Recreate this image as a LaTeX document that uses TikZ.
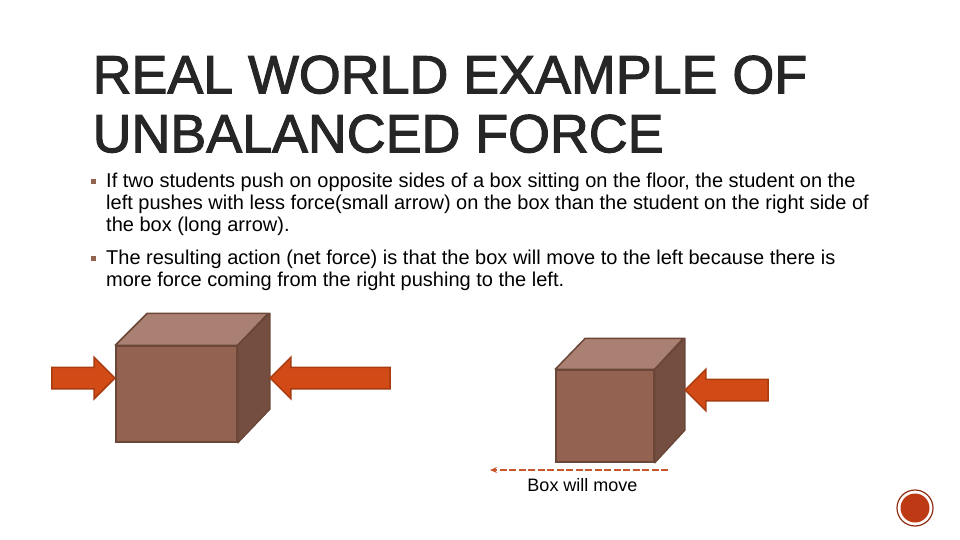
\documentclass[tikz,border=0pt]{standalone}
\usepackage{fontspec}
\setmainfont{Liberation Sans}
\newfontfamily\titlefont[FakeBold=2]{Liberation Sans}
\usetikzlibrary{positioning, calc, shapes.arrows, arrows.meta}
\definecolor{boxfront}{HTML}{936250}
\definecolor{boxtop}{HTML}{A98072}
\definecolor{boxside}{HTML}{744E40}
\definecolor{boxline}{HTML}{6B473A}
\definecolor{pushfill}{HTML}{D24A15}
\definecolor{pushline}{HTML}{A83B10}
\definecolor{movecolor}{HTML}{C8562A}
\definecolor{badgefill}{HTML}{BE3A14}
\definecolor{badgeline}{HTML}{8F2E14}
\tikzset{
  titletext/.style={anchor=north west, inner sep=0pt, align=left, text=black!85, font=\titlefont\fontsize{53.8}{59}\selectfont},
  bodytext/.style={anchor=north west, inner sep=0pt, align=left, font=\fontsize{20}{22}\selectfont},
  bulletmark/.style={fill=boxfront, inner sep=0pt, minimum size=5.5pt},
  frontface/.style={draw=boxline, fill=boxfront, line width=1.5pt, inner sep=0pt},
  topface/.style={draw=boxline, fill=boxtop, line width=1.5pt, line join=round},
  sideface/.style={draw=boxline, fill=boxside, line width=1.5pt, line join=round},
  pusharrow/.style={single arrow, draw=pushline, fill=pushfill, line width=1.5pt, anchor=tip,
    inner xsep=0pt, inner ysep=10pt, single arrow head extend=10pt},
  pushright/.style={pusharrow},
  pushleft/.style={pusharrow, shape border rotate=180},
}
\begin{document}
\begin{tikzpicture}[x=1pt, y=-1pt]
  \useasboundingbox (0,0) rectangle (960,540);

  % Title and the two bullet points
  \node[titletext] (title) at (92.5,55.5) {REAL WORLD EXAMPLE OF\\UNBALANCED FORCE};
  \node[bulletmark] (bulletA) at (93.5,181.5) {};
  \node[bodytext] (paraA) at (106,173) {If two students push on opposite sides of a box sitting on the floor, the student on the\\left pushes with less force(small arrow) on the box than the student on the right side of\\the box (long arrow).};
  \node[bulletmark] (bulletB) at (93.5,258.5) {};
  \node[bodytext] (paraB) at (106,250) {The resulting action (net force) is that the box will move to the left because there is\\more force coming from the right pushing to the left.};

  % Left box
  \node[frontface, minimum width=121pt, minimum height=96pt] (boxA) at (176.5,394) {};
  \draw[topface] (boxA.north west) -- ++(32,-32) -- ++(121,0) -- (boxA.north east) -- cycle;
  \draw[sideface] (boxA.north east) -- ++(32,-32) -- ++(0,96) -- (boxA.south east) -- cycle;

  % Arrows pushing on the left box
  \node[pushright, minimum height=63pt] (pushA) at (116,378) {};
  \node[pushleft, minimum height=120pt] (pushB) at (269,378) {};

  % Right box
  \node[frontface, minimum width=98pt, minimum height=92pt] (boxB) at (605,416) {};
  \draw[topface] (boxB.north west) -- ++(30,-31) -- ++(98,0) -- (boxB.north east) -- cycle;
  \draw[sideface] (boxB.north east) -- ++(30,-31) -- ++(0,92) -- (boxB.south east) -- cycle;

  % Arrow pushing on the right box
  \node[pushleft, minimum height=83pt] (pushC) at (684,390) {};

  % Direction of movement
  \coordinate (moveStart) at (668,470);
  \coordinate (moveEnd) at (490,470);
  \draw[-{Stealth[length=7pt,width=6pt]}, dash pattern=on 7pt off 2.5pt, draw=movecolor, line width=1.5pt] (moveStart) -- (moveEnd);
  \node[inner sep=0pt, font=\fontsize{18}{20}\selectfont] (moveLabel) at (582.5,485) {Box will move};

  % Slide number badge
  \node[circle, draw=badgeline, line width=1.2pt, minimum size=36pt, inner sep=0pt] (badgeRing) at (915,508) {};
  \node[circle, fill=badgefill, minimum size=29pt, inner sep=0pt] (badge) at (915,508) {};
\end{tikzpicture}
\end{document}
